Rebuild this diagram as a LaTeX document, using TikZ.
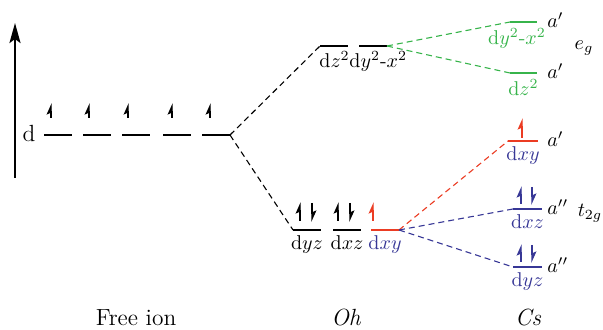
\documentclass[tikz,border=0pt]{standalone}
\usepackage{tikz}
\usetikzlibrary{arrows.meta, positioning}

\definecolor{egreen}{RGB}{55,180,75}
\definecolor{ered}{RGB}{235,60,35}
\definecolor{eblue}{RGB}{55,55,150}

\begin{document}
\begin{tikzpicture}[
    x=0.5pt, y=-0.5pt,
    % Level and connector styles
    level/.style={line width=1pt},
    link/.style={dash pattern=on 3pt off 2pt, line width=0.55pt},
    spinup/.style={-{Stealth[left, length=5pt, width=4.4pt, inset=1pt]}, line width=0.7pt, shorten >=-0.5pt},
    energy/.style={-{Stealth[length=10pt, width=5.5pt, inset=2pt]}, line width=1.2pt},
    orb/.style={inner sep=1pt, below=1.5pt},
    sym/.style={inner sep=1pt, anchor=west},
    title/.style={inner sep=0pt, font=\fontsize{11.7}{14}\selectfont}
]
\useasboundingbox (0,0) rectangle (603,330);

% --- Energy axis ---
\draw[energy] (15,178) coordinate (ebot) -- (15,23) coordinate (etop);
\node[title] (dlab) at (29,134) {d};

% --- Free ion ---
\foreach \i/\xa/\xs in {1/44/51, 2/83/89, 3/122/128, 4/163/172, 5/202/210} {
    \draw[level] (\xa,135) coordinate (fi\i a) -- ++(28,0) coordinate (fi\i b);
    \draw[spinup] (\xs,118) -- (\xs,104);
}

% --- Oh: e_g ---
\draw[level] (320,46) coordinate (ohza) -- (348,46) coordinate (ohzb);
\draw[level] (359,46) coordinate (ohxa) -- (387,46) coordinate (ohxb);
\node[inner sep=0pt, anchor=north west] (lohz) at (319,51) {d$z^2$};
\node[inner sep=0pt, anchor=north west] (lohx) at (349,51) {d$y^2$-$x^2$};

% --- Oh: t_2g ---
\draw[level] (293,230) coordinate (ohyza) -- (321,230) coordinate (ohyzb)
    node[orb, midway] (lohyz) {d$yz$};
\draw[level] (333,230) coordinate (ohxza) -- (361,230) coordinate (ohxzb)
    node[orb, midway] (lohxz) {d$xz$};
\draw[level, ered] (371,230) coordinate (ohxya) -- (399,230) coordinate (ohxyb)
    node[orb, midway, text=eblue] (lohxy) {d$xy$};
\foreach \xs in {300, 338} {
    \draw[spinup] (\xs,221) -- (\xs,203);
    \draw[spinup] (\xs+12,203) -- (\xs+12,221);
}
\draw[spinup, ered] (373,221) -- (373,203);

% --- Cs ---
\draw[level, egreen] (510,22) coordinate (csxa) -- (537,22) coordinate (csxb);
\node[inner sep=0pt, anchor=north, text=egreen] (lcsx) at (517,28) {d$y^2$-$x^2$};
\draw[level, egreen] (510,73) coordinate (csza) -- (537,73) coordinate (cszb)
    node[orb, midway, text=egreen] (lcsz) {d$z^2$};
\draw[level, ered] (508,141) coordinate (csxya) -- (538,141) coordinate (csxyb)
    node[orb, midway, text=eblue] (lcsxy) {d$xy$};
\draw[level, eblue] (513,209) coordinate (csxza) -- (542,209) coordinate (csxzb)
    node[orb, midway, text=eblue] (lcsxz) {d$xz$};
\draw[level, eblue] (513,267) coordinate (csyza) -- (542,267) coordinate (csyzb)
    node[orb, midway, text=eblue] (lcsyz) {d$yz$};
\draw[spinup, ered] (522,138) -- (522,119);
\foreach \ya in {204, 262} {
    \draw[spinup, eblue] (521,\ya) -- (521,\ya-17);
    \draw[spinup, eblue] (532,\ya-17) -- (532,\ya);
}

% --- Symmetry labels ---
\node[sym] (sa1) at (545,20) {$a'$};
\node[sym] (sa2) at (545,71) {$a'$};
\node[sym] (sa3) at (545,139) {$a'$};
\node[sym] (sa4) at (545,207) {$a''$};
\node[sym] (sa5) at (545,265) {$a''$};
\node[inner sep=1pt] (leg) at (584,48) {$e_g$};
\node[inner sep=1pt] (lt2g) at (590,213) {$t_{2g}$};

% --- Connectors ---
\draw[link] (fi5b) -- (ohza);
\draw[link] (fi5b) -- (ohyza);
\draw[link, egreen] (ohxb) -- (csxa);
\draw[link, egreen] (ohxb) -- (csza);
\draw[link, ered] (ohxyb) -- (csxya);
\draw[link, eblue] (ohxyb) -- (csxza);
\draw[link, eblue] (ohxyb) -- (csyza);

% --- Titles ---
\node[title] (tfree) at (136,318) {Free ion};
\node[title] (toh) at (346,318) {\itshape Oh};
\node[title] (tcs) at (528,318) {\itshape Cs};

\end{tikzpicture}
\end{document}
